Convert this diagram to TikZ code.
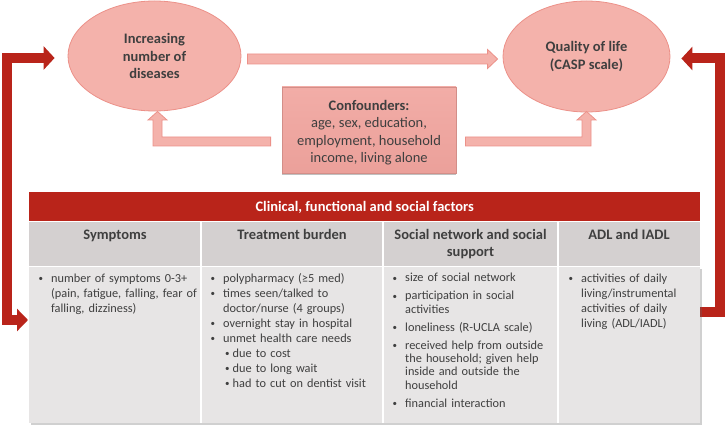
\documentclass[tikz,border=0pt]{standalone}
\usepackage{fontspec}
\setmainfont{Carlito}
\usetikzlibrary{calc,arrows.meta,shapes.geometric,shadows}
\definecolor{txt}{HTML}{3F3F3F}
\definecolor{pinkfill}{HTML}{F4B2AB}
\definecolor{pinkline}{HTML}{EC9189}
\definecolor{boxtop}{HTML}{F2ADA7}
\definecolor{boxbot}{HTML}{EBA09A}
\definecolor{boxline}{HTML}{D38E88}
\definecolor{darkred}{HTML}{B9241A}
\definecolor{subgray}{HTML}{D4D0D0}
\definecolor{bodygray}{HTML}{E7E5E5}
\newcommand\mybullet{\raisebox{0.6pt}{\fontsize{9}{9}\selectfont\textbullet}}
\newenvironment{blist}[1][0pt]{\begin{list}{\mybullet}{%
  \setlength\leftmargin{12.5pt}\setlength\labelwidth{12.5pt}\setlength\labelsep{0pt}%
  \setlength\itemsep{#1}\setlength\parsep{0pt}\setlength\topsep{0pt}\setlength\partopsep{0pt}%
  \setlength\listparindent{0pt}\setlength\itemindent{0pt}\def\makelabel##1{##1\hfil}}}{\end{list}}
\newenvironment{slist}{\begin{list}{\mybullet}{%
  \setlength\leftmargin{9.5pt}\setlength\labelwidth{7.5pt}\setlength\labelsep{0pt}%
  \setlength\itemsep{0pt}\setlength\parsep{0pt}\setlength\topsep{0pt}\setlength\partopsep{0pt}%
  \setlength\listparindent{0pt}\setlength\itemindent{0pt}\def\makelabel##1{##1\hfil}}}{\end{list}}
\tikzset{
  oval/.style={ellipse, fill=pinkfill, draw=pinkline, line width=0.8pt, inner sep=0pt,
    text=txt, font=\fontsize{14.5}{17.5}\selectfont\bfseries, align=center},
  pinkarrow/.style={fill=pinkfill, draw=pinkline, line width=0.8pt, line join=miter},
  redarrow/.style={draw=darkred, line width=10pt, line join=miter},
  confbox/.style={rectangle, top color=boxtop, bottom color=boxbot, draw=boxline, line width=0.8pt,
    inner sep=0pt, drop shadow={shadow xshift=0pt, shadow yshift=-2pt, opacity=0.35, fill=black!70}},
  conftxt/.style={text=txt, font=\fontsize{14.5}{17.5}\selectfont, align=center, inner sep=0pt},
  colhead/.style={anchor=north, inner sep=0pt, text=txt, font=\fontsize{14.5}{17}\selectfont\bfseries, align=center},
  cellbody/.style={anchor=north west, inner sep=0pt, text=txt, align=left, font=\fontsize{12.3}{15}\selectfont},
  tablerow/.style={anchor=north west, inner sep=0pt, minimum width=671pt}
}
\begin{document}
\begin{tikzpicture}[x=1pt,y=-1pt]
\useasboundingbox (0,0) rectangle (725,427);
\fill[white] (0,0) rectangle (725,427);

% ellipses
\node[oval, minimum width=173pt, minimum height=110pt] (dis) at (154.5,56) {Increasing\\number of\\diseases};
\node[oval, minimum width=167pt, minimum height=111pt] (qol) at (586.5,56.5) {Quality of life\\(CASP scale)};

% confounders
\node[confbox, minimum width=174pt, minimum height=86pt] (conf) at (369,130) {};
\node[conftxt] (conftext) at (369,132.5)
  {\textbf{Confounders:}\\age, sex, education,\\employment, household\\income, living alone};

% horizontal pink arrow
\coordinate (hs) at ($(dis.east)+(6,3)$);
\coordinate (he) at ($(qol.west)+(-5,2.5)$);
\draw[pinkarrow] ($(hs)+(0,-5)$) -- ($(he)+(-10,-5)$) -- ($(he)+(-10,-9.5)$) -- (he)
  -- ($(he)+(-10,9.5)$) -- ($(he)+(-10,5)$) -- ($(hs)+(0,5)$) -- cycle;

% up arrows from confounders
\coordinate (cl) at ($(conf.west)+(-11,11.5)$);
\coordinate (lt) at (157.5,111.5);
\draw[pinkarrow] ($(cl)+(0,-4.5)$) -- ($(lt)+(4.5,25.5)$) -- ($(lt)+(4.5,8.5)$) -- ($(lt)+(9.5,8.5)$) -- (lt)
  -- ($(lt)+(-9.5,8.5)$) -- ($(lt)+(-4.5,8.5)$) -- ($(lt)+(-4.5,34.5)$) -- ($(cl)+(0,4.5)$) -- cycle;
\coordinate (cr) at ($(conf.east)+(9,11.5)$);
\coordinate (rt) at (586.5,111.5);
\draw[pinkarrow] ($(cr)+(0,-4.5)$) -- ($(rt)+(-4.5,25.5)$) -- ($(rt)+(-4.5,8.5)$) -- ($(rt)+(-9.5,8.5)$) -- (rt)
  -- ($(rt)+(9.5,8.5)$) -- ($(rt)+(4.5,8.5)$) -- ($(rt)+(4.5,34.5)$) -- ($(cr)+(0,4.5)$) -- cycle;

% red feedback arrows
\coordinate (lin) at (28,320);
\coordinate (lup) at ($(dis.west)+(-13,2)$);
\draw[redarrow, arrows={Triangle[length=11pt,width=22pt]-Triangle[length=11pt,width=23pt]}]
  (lin) -- (7,320) -- (7,58) -- (lup);
\coordinate (rin) at (699,312.5);
\coordinate (rup) at ($(qol.east)+(11,2)$);
\draw[redarrow, arrows={-Triangle[length=11pt,width=23pt]}]
  (rin) -- (720,312.5) -- (720,58.5) -- (rup);

% table
\node[tablerow, fill=bodygray, minimum height=156pt,
  drop shadow={shadow xshift=2pt, shadow yshift=-2pt, opacity=0.3, fill=black!60}] (body) at (29,267) {};
\node[tablerow, fill=subgray, minimum height=45pt] (sub) at (29,222) {};
\node[tablerow, fill=darkred, minimum height=30pt, text=white,
  font=\fontsize{14.5}{17}\selectfont\bfseries] (hdr) at (29,192) {Clinical, functional and social factors};
\draw[white, line width=1pt] (sub.north west) -- (sub.north east);
\draw[white, line width=1pt] (body.north west) -- (body.north east);
\draw[white, line width=1.5pt] (201,222) -- (201,423);
\draw[white, line width=1.5pt] (383,222) -- (383,423);
\draw[white, line width=1.5pt] (558,222) -- (558,423);

% column headers
\node[colhead] (h1) at (115,229.5) {Symptoms};
\node[colhead] (h2) at (292,229.5) {Treatment burden};
\node[colhead] (h3) at (470.5,229.5) {Social network and social\\support};
\node[colhead] (h4) at (629,229.5) {ADL and IADL};

% column bodies
\node[cellbody, text width=160pt] (b1) at (38.5,267) {%
  \begin{blist}
  \item number of symptoms 0-3+\newline (pain, fatigue, falling, fear of\newline falling, dizziness)
  \end{blist}};
\node[cellbody, text width=172pt] (b2) at (210.5,267) {%
  \begin{blist}
  \item polypharmacy (≥5 med)
  \item times seen/talked to\newline doctor/nurse (4 groups)
  \item overnight stay in hospital
  \item unmet health care needs
    \begin{slist}
    \item due to cost
    \item due to long wait
    \item had to cut on dentist visit
    \end{slist}
  \end{blist}};
\node[cellbody, text width=165pt, font=\fontsize{12.3}{13.3}\selectfont] (b3) at (392.5,268.5) {%
  \begin{blist}[4.7pt]
  \item size of social network
  \item participation in social\newline activities
  \item loneliness (R-UCLA scale)
  \item received help from outside\newline the household; given help\newline inside and outside the\newline household
  \item financial interaction
  \end{blist}};
\node[cellbody, text width=130pt] (b4) at (568.5,267) {%
  \begin{blist}
  \item activities of daily\newline living/instrumental\newline activities of daily\newline living (ADL/IADL)
  \end{blist}};
\end{tikzpicture}
\end{document}
